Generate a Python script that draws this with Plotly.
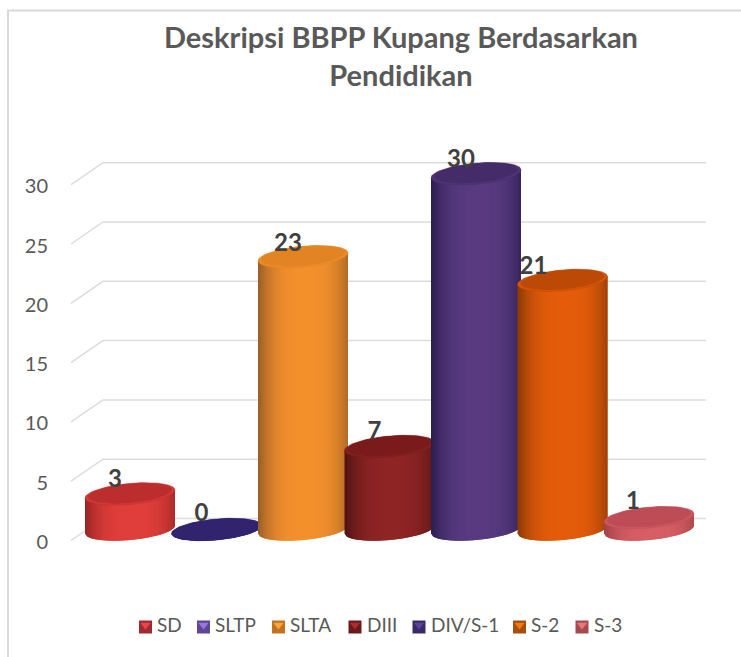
import numpy as np
import plotly.graph_objects as go

categories = ["SD", "SLTP", "SLTA", "DIII", "DIV/S-1", "S-2", "S-3"]
values = [3, 0, 23, 7, 30, 21, 1]
y_ticks = [0, 5, 10, 15, 20, 25, 30]
title_lines = ["Deskripsi BBPP Kupang Berdasarkan", "Pendidikan"]

body_centre = [(224, 62, 58), (60, 42, 120), (244, 144, 44), (142, 36, 36), (88, 58, 128), (228, 92, 10), (214, 94, 100)]
body_edge = [(150, 36, 36), (40, 28, 90), (150, 92, 40), (78, 18, 18), (42, 28, 78), (136, 56, 6), (160, 64, 70)]
cap_colour = [(188, 46, 46), (50, 35, 110), (226, 132, 36), (122, 26, 26), (68, 44, 104), (188, 74, 6), (190, 76, 86)]
legend_dark = ["#9e2b2f", "#5f4596", "#c4701f", "#6b1a1c", "#3b2a66", "#a84e0c", "#a64a4e"]
legend_light = ["#e8464a", "#9a78d8", "#f5a83a", "#a83034", "#5c4596", "#ee7a1c", "#e8777c"]

# layout helpers, in page pixels
legend_px = [145.5, 203.5, 278.5, 355, 419, 519.5, 582]
legend_text_px = [157, 215, 290, 367, 431, 531, 594]
label_dx_px = [-15, -15, -15, -15, -15, -29, -16]
label_dy_px = [13, 15, 12, 13, 13, 12, 15]

W, H = 741, 657
ZERO_PX, UNIT_PX = 529.5, 11.86
PITCH, FIRST = 86.5, 130
A = 45 / PITCH
RY = 10.5 / UNIT_PX
TILT = 4 / UNIT_PX
GRID_DX = 16 / PITCH
DY = 11 / UNIT_PX
TICK_DY = 12.5 / UNIT_PX
GREY = "#595959"
FONT = "Lato"


def px_x(p):
    return (np.asarray(p, dtype=float) - FIRST) / PITCH


def px_y(p):
    return (ZERO_PX - np.asarray(p, dtype=float)) / UNIT_PX


x_range = [float(px_x(0)), float(px_x(W))]
y_range = [float(px_y(H)), float(px_y(0))]
xs = np.arange(len(categories), dtype=float)


def rgb(c):
    return "rgb(%d,%d,%d)" % tuple(int(round(v)) for v in c)


def mix(a, b, t):
    return [a[i] + (b[i] - a[i]) * t for i in range(3)]


fig = go.Figure()

# Front-edge tick axis
fig.add_trace(go.Scatter(x=[xs[0]], y=[0], yaxis="y2", mode="markers", marker=dict(opacity=0),
                         hoverinfo="skip", showlegend=False))

# Floor and back-wall grid with the slanted side-wall segment, from the tick values
left_front = float(px_x(71))
left_back = left_front + 2 * GRID_DX
grid_end = float(px_x(706))
gx, gy = [], []
for t in y_ticks:
    gx += [left_front, left_back, grid_end, None]
    gy += [t - DY, t + DY, t + DY, None]
fig.add_trace(go.Scatter(x=gx, y=gy, mode="lines", line=dict(color="#dcdcdc", width=1.5),
                         hoverinfo="skip", showlegend=False))

# Core bars carrying the values
fig.add_trace(go.Bar(x=xs, y=values, width=2 * A * 0.9, marker=dict(color=[rgb(c) for c in body_centre], line_width=0),
                     showlegend=False, hoverinfo="x+y"))

STRIPS = 40
theta = np.linspace(0, 2 * np.pi, 90)
ex, ey = np.cos(theta), np.sin(theta)
for k, v in enumerate(values):
    c0 = xs[k]
    edges = np.linspace(-1, 1, STRIPS + 1)
    for i in range(STRIPS):
        u1, u2 = edges[i], edges[min(i + 2, STRIPS)]
        um = (edges[i] + edges[i + 1]) / 2
        t = max(0.0, 1 - abs((um - 0.05) / 1.05) ** 3.0)
        col = mix(body_edge[k], body_centre[k], t)
        us = np.linspace(u1, u2, 6)
        low = -RY * np.sqrt(np.clip(1 - us ** 2, 0, 1)) + TILT * us
        top = v + TILT * us
        fig.add_trace(go.Scatter(x=np.concatenate([us, us[::-1]]) * A + c0,
                                 y=np.concatenate([low, top[::-1]]),
                                 mode="lines", fill="toself", fillcolor=rgb(col),
                                 line=dict(color=rgb(col), width=0), hoverinfo="skip", showlegend=False))
    rim = mix(body_centre[k], cap_colour[k], 0.4) if v > 0 else cap_colour[k]
    fig.add_trace(go.Scatter(x=c0 + A * ex, y=v + RY * ey + TILT * ex, mode="lines", fill="toself",
                             fillcolor=rgb(rim), line=dict(color=rgb(cap_colour[k]), width=0.5),
                             hoverinfo="skip", showlegend=False))
    s = 0.93 if v > 0 else 1
    fig.add_trace(go.Scatter(x=c0 + A * s * ex, y=v + (1 - s) * RY + RY * s * ey + TILT * s * ex,
                             mode="lines", fill="toself", fillcolor=rgb(cap_colour[k]),
                             line=dict(color=rgb(cap_colour[k]), width=0), hoverinfo="skip", showlegend=False))

# Data labels
label_x = xs + np.array(label_dx_px) / PITCH
label_y = np.array(values) + np.array(label_dy_px) / UNIT_PX
fig.add_trace(go.Scatter(x=label_x, y=label_y, mode="text", text=[str(v) for v in values],
                         textposition="middle center",
                         textfont=dict(family=FONT, size=24, color="#404040", weight="bold"),
                         hoverinfo="skip", showlegend=False))

# Legend row
legend_row = float(px_y(627))
for k, name in enumerate(categories):
    lx = float(px_x(legend_px[k]))
    fig.add_trace(go.Scatter(x=[lx], y=[legend_row], mode="markers",
                             marker=dict(symbol="square", size=13, color=legend_dark[k], line_width=0),
                             hoverinfo="skip", showlegend=False))
    fig.add_trace(go.Scatter(x=[lx], y=[legend_row + 2 / UNIT_PX], mode="markers",
                             marker=dict(symbol="triangle-down", size=9, color=legend_light[k], line_width=0),
                             hoverinfo="skip", showlegend=False))
    fig.add_trace(go.Scatter(x=[float(px_x(legend_text_px[k]))], y=[legend_row], mode="text", text=[name],
                             textposition="middle right", textfont=dict(family=FONT, size=19, color=GREY),
                             hoverinfo="skip", showlegend=False))

frame = dict(color="#d9d9d9", width=2)
fig.update_layout(
    width=W, height=H, autosize=False,
    margin=dict(l=0, r=0, t=0, b=0, pad=0),
    paper_bgcolor="white", plot_bgcolor="rgba(0,0,0,0)",
    barmode="overlay", font=dict(family=FONT, color=GREY), showlegend=False,
    title=dict(text="<br>".join(title_lines), x=401 / W, xanchor="center", y=1 - 48 / H, yanchor="middle",
               font=dict(family=FONT, size=29, color=GREY, weight="bold")),
    xaxis=dict(range=x_range, visible=False, fixedrange=True, domain=[0, 1]),
    yaxis=dict(range=y_range, visible=False, fixedrange=True, domain=[0, 1]),
    yaxis2=dict(range=[y_range[0] + TICK_DY, y_range[1] + TICK_DY], overlaying="y", side="left", anchor="free",
                position=71 / W, tickmode="array", tickvals=y_ticks, ticktext=[str(t) for t in y_ticks],
                tickfont=dict(family=FONT, size=20, color=GREY), showgrid=False, zeroline=False,
                showline=False, ticks="", ticklabelstandoff=23, fixedrange=True, automargin=False),
    shapes=[
        dict(type="line", xref="paper", yref="paper", x0=8 / W, x1=8 / W, y0=0, y1=1 - 10 / H, line=frame),
        dict(type="line", xref="paper", yref="paper", x0=7 / W, x1=1, y0=1 - 10.5 / H, y1=1 - 10.5 / H, line=frame),
    ],
)
fig.write_html("out.html", post_script="document.body.style.margin='0';", config=dict(displayModeBar=False))
